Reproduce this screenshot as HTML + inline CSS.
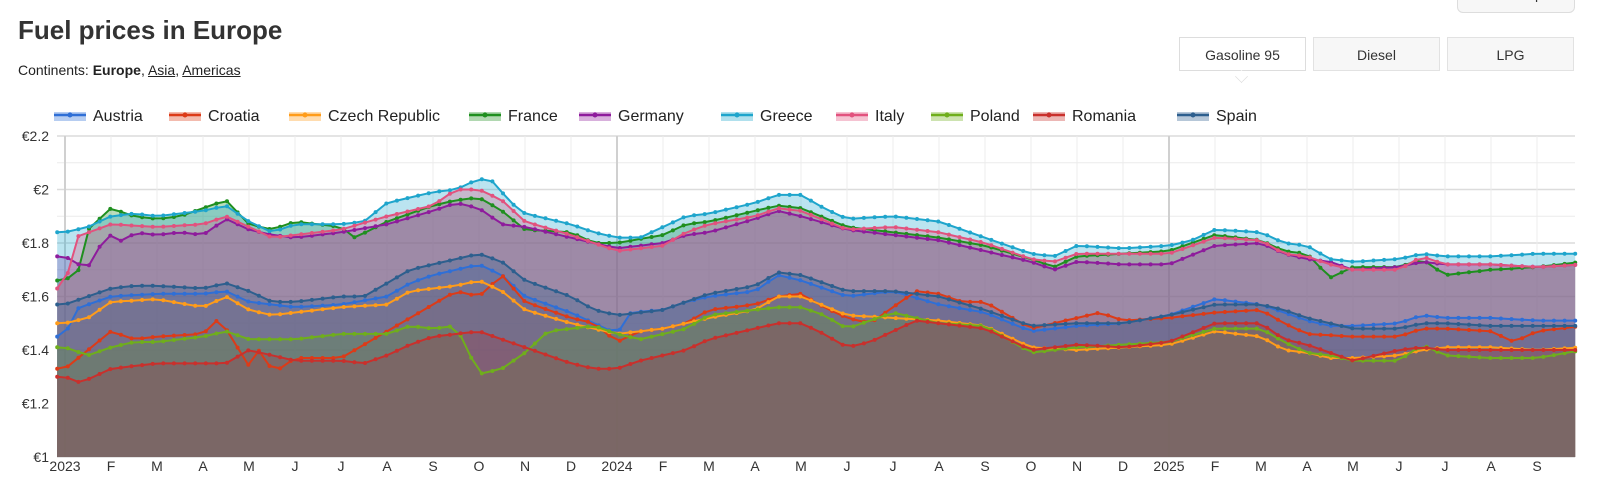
<!DOCTYPE html>
<html><head><meta charset="utf-8"><style>
body{margin:0;width:1600px;height:496px;overflow:hidden;background:#fff;font-family:"Liberation Sans",sans-serif;color:#333}
.t{position:absolute;left:18px;top:15px;font-size:26px;font-weight:bold;color:#333}
.s{position:absolute;left:18px;top:62px;font-size:14px;color:#222}
.s u{color:#222}
.b{position:absolute;top:37px;height:34px;width:127px;border:1px solid #e2e2e2;background:#f7f7f7;font-size:14px;text-align:center;line-height:34px;box-sizing:border-box;color:#333}
.fm{position:absolute;left:1457px;top:-20px;width:118px;height:33px;border:1px solid #ddd;border-radius:6px;background:#f7f7f7;font-size:14px;text-align:center;line-height:26px;color:#333;box-sizing:border-box;overflow:hidden}
.tri{position:absolute;left:1235px;top:70px;width:12px;height:12px;background:#fff;border-right:1px solid #ddd;border-bottom:1px solid #ddd;transform:rotate(45deg) scale(0.7,0.7)}
</style></head><body>
<div class="t">Fuel prices in Europe</div>
<div class="s">Continents: <b>Europe</b>, <u>Asia</u>, <u>Americas</u></div>
<div class="fm">fuel map</div>
<div class="b" style="left:1179px;background:#fff;border-color:#ddd">Gasoline 95</div>
<div class="tri"></div>
<div class="b" style="left:1313px">Diesel</div>
<div class="b" style="left:1447px">LPG</div>
<svg id="c" width="1600" height="496" style="position:absolute;left:0;top:0"></svg>
<script>
const S=[
["Austria","#2f6fd6",[[0,1.45],[0.2,1.55],[0.5,1.57],[1,1.6],[2,1.61],[3,1.61],[3.5,1.62],[4,1.58],[5,1.56],[6,1.57],[7,1.6],[7.5,1.65],[8,1.68],[8.5,1.7],[9,1.72],[9.5,1.68],[10,1.6],[11,1.54],[11.5,1.5],[12,1.46],[12.3,1.54],[13,1.55],[13.5,1.58],[14,1.6],[15,1.62],[15.5,1.68],[16,1.66],[16.5,1.63],[17,1.6],[18,1.62],[19,1.57],[20,1.54],[21,1.47],[22,1.49],[23,1.5],[24,1.53],[25,1.59],[26,1.57],[26.5,1.54],[27,1.51],[27.5,1.49],[28,1.49],[29,1.5],[29.5,1.53],[30,1.52],[31,1.52],[32,1.51],[33,1.51]]],
["Croatia","#dc3b18",[[0,1.33],[0.5,1.4],[1,1.47],[1.5,1.44],[2,1.45],[3,1.46],[3.3,1.51],[3.5,1.48],[4,1.34],[4.3,1.42],[4.5,1.31],[5,1.37],[6,1.37],[6.5,1.42],[7,1.47],[7.5,1.52],[8,1.57],[8.5,1.62],[9,1.6],[9.5,1.68],[10,1.58],[10.5,1.55],[11,1.52],[11.5,1.5],[12,1.43],[12.5,1.47],[13,1.48],[13.5,1.5],[14,1.55],[15,1.57],[15.5,1.6],[16,1.61],[16.5,1.56],[17,1.52],[17.5,1.5],[18,1.56],[18.5,1.62],[19,1.61],[19.5,1.58],[20,1.58],[21,1.48],[22,1.52],[22.5,1.54],[23,1.51],[24,1.52],[25,1.54],[26,1.55],[26.5,1.5],[27,1.46],[28,1.45],[29,1.45],[29.5,1.48],[30,1.48],[31,1.47],[31.5,1.43],[32,1.47],[33,1.49]]],
["Czech Republic","#ff9c1a",[[0,1.5],[0.5,1.52],[1,1.58],[2,1.59],[3,1.56],[3.5,1.6],[4,1.55],[4.5,1.53],[5,1.54],[6,1.56],[7,1.57],[7.5,1.62],[8,1.63],[8.5,1.64],[9,1.66],[9.5,1.62],[10,1.55],[11,1.5],[11.5,1.48],[12,1.46],[13,1.48],[13.5,1.5],[14,1.52],[15,1.55],[15.5,1.6],[16,1.6],[17,1.53],[18,1.52],[19,1.51],[20,1.49],[21,1.41],[22,1.4],[23,1.41],[24,1.42],[25,1.47],[26,1.45],[26.5,1.4],[27,1.39],[27.5,1.37],[28,1.37],[29,1.38],[29.5,1.4],[30,1.41],[31,1.41],[32,1.4],[33,1.41]]],
["France","#1f8f1f",[[0,1.66],[0.3,1.7],[0.5,1.85],[1,1.93],[1.5,1.9],[2,1.89],[2.5,1.9],[3,1.93],[3.5,1.96],[4,1.87],[4.5,1.85],[5,1.88],[6,1.86],[6.3,1.82],[7,1.88],[7.5,1.91],[8,1.94],[8.5,1.96],[9,1.97],[9.5,1.92],[10,1.85],[11,1.84],[11.5,1.8],[12,1.8],[13,1.83],[13.5,1.87],[14,1.88],[15,1.92],[15.5,1.94],[16,1.93],[17,1.86],[18,1.84],[19,1.82],[20,1.79],[21,1.74],[21.5,1.71],[22,1.75],[23,1.76],[24,1.77],[25,1.83],[26,1.81],[26.5,1.77],[27,1.76],[27.5,1.67],[28,1.71],[29,1.71],[29.5,1.74],[30,1.68],[31,1.7],[32,1.71],[33,1.73]]],
["Germany","#8e1c9c",[[0,1.75],[0.3,1.72],[0.5,1.71],[0.8,1.8],[1,1.83],[1.3,1.8],[1.5,1.84],[2,1.83],[2.5,1.84],[3,1.83],[3.5,1.89],[4,1.85],[4.5,1.83],[5,1.82],[6,1.84],[7,1.87],[8,1.92],[8.5,1.95],[9,1.93],[9.5,1.87],[10,1.86],[11,1.82],[11.5,1.8],[12,1.78],[13,1.8],[13.5,1.83],[14,1.84],[15,1.89],[15.5,1.92],[16,1.9],[17,1.85],[18,1.83],[19,1.81],[20,1.77],[21,1.73],[21.5,1.7],[22,1.73],[23,1.72],[24,1.72],[25,1.79],[26,1.8],[26.5,1.76],[27,1.74],[27.5,1.73],[28,1.7],[29,1.71],[29.5,1.73],[30,1.72],[31,1.72],[32,1.71],[33,1.72]]],
["Greece","#1ea5cc",[[0,1.84],[0.5,1.86],[1,1.9],[1.5,1.91],[2,1.9],[3,1.92],[3.5,1.94],[4,1.88],[4.5,1.84],[5,1.87],[6,1.87],[6.5,1.88],[7,1.95],[7.5,1.97],[8,1.99],[8.5,2.0],[9,2.04],[9.3,2.03],[9.7,1.95],[10,1.91],[11,1.87],[11.5,1.84],[12,1.82],[12.5,1.82],[13,1.86],[13.5,1.9],[14,1.91],[15,1.95],[15.5,1.98],[16,1.98],[16.5,1.93],[17,1.89],[18,1.9],[19,1.88],[20,1.82],[21,1.76],[21.5,1.75],[22,1.79],[23,1.78],[24,1.79],[24.5,1.81],[25,1.85],[26,1.84],[26.5,1.8],[27,1.79],[27.5,1.74],[28,1.73],[29,1.74],[29.5,1.76],[30,1.75],[31,1.75],[32,1.76],[33,1.76]]],
["Italy","#e2527e",[[0,1.63],[0.2,1.82],[1,1.87],[2,1.86],[3,1.87],[3.5,1.9],[4,1.86],[4.5,1.82],[5,1.83],[6,1.85],[7,1.9],[8,1.94],[8.5,2.0],[9,2.0],[9.5,1.96],[10,1.88],[11,1.83],[11.5,1.8],[12,1.77],[13,1.79],[13.5,1.84],[14,1.87],[15,1.9],[15.5,1.93],[16,1.92],[17,1.85],[18,1.86],[19,1.84],[20,1.8],[21,1.74],[21.5,1.73],[22,1.76],[23,1.76],[24,1.76],[25,1.82],[26,1.81],[26.5,1.76],[27,1.75],[27.5,1.72],[28,1.7],[29,1.7],[29.5,1.75],[30,1.72],[31,1.72],[32,1.71],[33,1.72]]],
["Poland","#6fae1c",[[0,1.41],[0.5,1.38],[1,1.41],[1.5,1.43],[2,1.43],[3,1.45],[3.5,1.47],[4,1.44],[5,1.44],[6,1.46],[7,1.46],[7.5,1.49],[8,1.48],[8.5,1.49],[9,1.31],[9.5,1.33],[10,1.39],[10.5,1.47],[11,1.48],[11.5,1.49],[12,1.46],[12.5,1.44],[13,1.46],[13.5,1.48],[14,1.53],[15,1.55],[15.5,1.56],[16,1.56],[16.5,1.53],[17,1.48],[17.5,1.51],[18,1.54],[18.5,1.52],[19,1.5],[20,1.49],[21,1.39],[22,1.41],[23,1.42],[24,1.43],[25,1.48],[26,1.48],[26.5,1.43],[27,1.39],[27.5,1.38],[28,1.36],[29,1.36],[29.5,1.42],[30,1.38],[31,1.37],[32,1.37],[33,1.4]]],
["Romania","#c9302c",[[0,1.3],[0.3,1.28],[0.5,1.29],[1,1.33],[2,1.35],[3,1.35],[3.5,1.35],[4,1.4],[5,1.36],[6,1.36],[6.5,1.35],[7,1.38],[7.5,1.42],[8,1.45],[8.5,1.46],[9,1.47],[9.5,1.44],[10,1.41],[11,1.35],[11.5,1.33],[12,1.33],[12.5,1.36],[13,1.38],[13.5,1.4],[14,1.44],[15,1.48],[15.5,1.5],[16,1.5],[16.5,1.46],[17,1.41],[17.5,1.43],[18,1.47],[18.5,1.51],[19,1.5],[20,1.48],[21,1.4],[22,1.42],[23,1.41],[24,1.43],[25,1.5],[26,1.5],[26.5,1.44],[27,1.42],[28,1.36],[28.5,1.38],[29,1.4],[29.5,1.41],[30,1.4],[31,1.4],[32,1.4],[33,1.4]]],
["Spain","#2d5f8e",[[0,1.57],[0.5,1.6],[1,1.63],[1.5,1.64],[2,1.64],[3,1.63],[3.5,1.65],[4,1.62],[4.5,1.58],[5,1.58],[6,1.6],[6.5,1.6],[7,1.65],[7.5,1.7],[8,1.72],[8.5,1.74],[9,1.76],[9.5,1.73],[10,1.66],[11,1.6],[11.5,1.55],[12,1.53],[13,1.55],[13.5,1.58],[14,1.61],[15,1.64],[15.5,1.69],[16,1.68],[16.5,1.65],[17,1.62],[18,1.62],[19,1.6],[20,1.55],[21,1.49],[22,1.5],[23,1.5],[24,1.53],[25,1.57],[26,1.57],[26.5,1.55],[27,1.52],[28,1.48],[29,1.48],[29.5,1.5],[30,1.5],[31,1.49],[32,1.49],[33,1.49]]]
];
const X=t=>65+t*46, Y=v=>457-(v-1)*267.5, L=57, R=1575;
let h='';
for(let i=0;i<=12;i++){const y=Y(1+i*0.1);h+=`<line x1="${L}" x2="${R}" y1="${y}" y2="${y}" stroke="${i%2?'#ececec':'#dcdcdc'}" stroke-width="${i%2?1:1.5}"/>`;}
const ml=["2023","F","M","A","M","J","J","A","S","O","N","D"];
for(let m=0;m<33;m++){const x=X(m*552/46/12);h+=`<line x1="${x}" x2="${x}" y1="136" y2="457" stroke="${m%12==0?'#d0d0d0':'#ececec'}" stroke-width="${m%12==0?2:1}"/>`;
 const lab=m==12?"2024":m==24?"2025":ml[m%12];h+=`<text x="${x}" y="471" font-size="14" text-anchor="middle" fill="#333">${lab}</text>`;}
["€1","€1.2","€1.4","€1.6","€1.8","€2","€2.2"].forEach((s,i)=>{h+=`<text x="49" y="${Y(1+i*0.2)+5}" font-size="14" text-anchor="end" fill="#333">${s}</text>`});
function val(p,t){if(t<=p[0][0])return p[0][1];for(let i=1;i<p.length;i++)if(t<=p[i][0]){const a=p[i-1],b=p[i];return a[1]+(b[1]-a[1])*(t-a[0])/(b[0]-a[0]);}return p[p.length-1][1];}
let areas='',lines='';
S.forEach(([n,c,p])=>{let pts=[];for(let t=-0.17;t<=32.84;t+=12/52){pts.push([X(t).toFixed(1),Y(val(p,t)).toFixed(1)]);}
 const d=pts.map(q=>q.join(',')).join(' ');
 areas+=`<polygon points="${L},457 ${d} ${pts[pts.length-1][0]},457" fill="${c}" fill-opacity="0.3"/>`;
 lines+=`<polyline points="${d}" fill="none" stroke="${c}" stroke-width="2"/>`;
 pts.forEach(q=>lines+=`<circle cx="${q[0]}" cy="${q[1]}" r="2" fill="${c}"/>`);});
h+=areas+lines;
const lx=[54,169,289,469,579,721,836,931,1033,1177];
S.forEach(([n,c],i)=>{const x=lx[i];h+=`<rect x="${x}" y="112" width="32" height="9" fill="${c}" fill-opacity="0.35"/><line x1="${x}" x2="${x+32}" y1="115" y2="115" stroke="${c}" stroke-width="2.5"/><circle cx="${x+16}" cy="115" r="2.5" fill="${c}"/><text x="${x+39}" y="121" font-size="16" fill="#222">${n}</text>`});
document.getElementById('c').innerHTML=h;
</script>
</body></html>
